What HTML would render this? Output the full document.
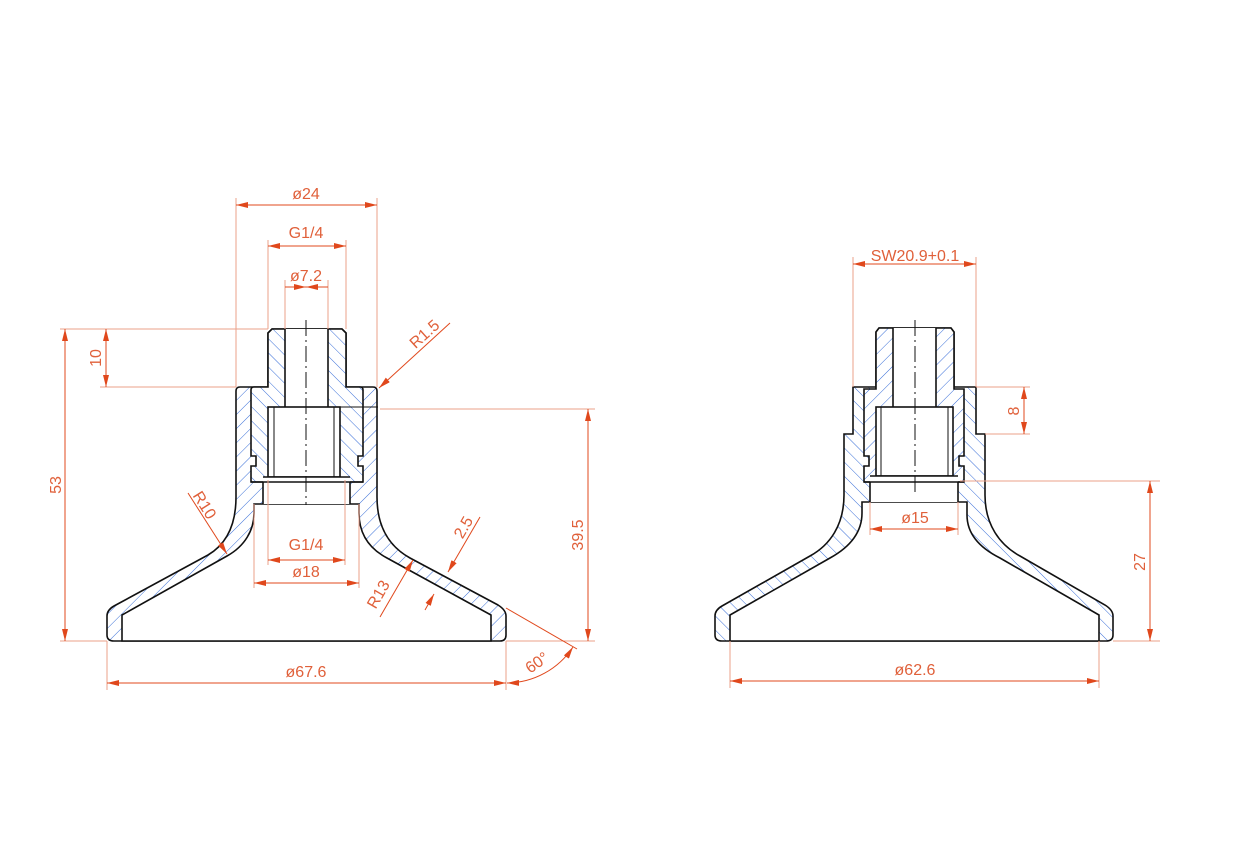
<!DOCTYPE html>
<html><head><meta charset="utf-8"><style>
html,body{margin:0;padding:0;background:#fff;width:1234px;height:849px;overflow:hidden}
svg{display:block}
text{font-family:"Liberation Sans","DejaVu Sans",sans-serif;font-size:16px;fill:#e0603a}
</style></head><body>
<svg width="1234" height="849" viewBox="0 0 1234 849" xmlns="http://www.w3.org/2000/svg">
<defs>
<pattern id="hf" width="10" height="10" patternUnits="userSpaceOnUse" patternTransform="rotate(45)"><line x1="0" y1="0" x2="0" y2="10" stroke="#3a6fd8" stroke-width="1"/></pattern>
<pattern id="hb" width="10" height="10" patternUnits="userSpaceOnUse" patternTransform="rotate(-45)"><line x1="0" y1="0" x2="0" y2="10" stroke="#3a6fd8" stroke-width="1"/></pattern>
<marker id="a" viewBox="0 0 12 6" refX="12" refY="3" markerWidth="12" markerHeight="6" orient="auto-start-reverse" markerUnits="userSpaceOnUse"><path d="M0,0 L12,3 L0,6 z" fill="#e0481c"/></marker>
</defs>

<!-- LEFT VIEW -->
<g stroke="#111" stroke-width="1.6" fill="none">
<path fill="url(#hf)" d="M268,333 L272,329 L342,329 L346,333 L346,387 L373,387 Q377,387 377,391 L377,497 C377,530 392,548 410,558 L498,605 Q506,610 506,616 L506,635 Q506,641 500,641 L114,641 Q107,641 107,635 L107,616 Q107,610 114,606 L208,555 C225,545 236,527 236,497 L236,391 Q236,387 240,387 L268,387 Z"/>
<path fill="#fff" stroke="none" d="M268,333 L272,329 L342,329 L346,333 L346,387 L360,387 Q363,387 363,390 L363,456 L358,456 L358,466 L363,466 L363,482 L251,482 L251,466 L256,466 L256,456 L251,456 L251,390 Q251,387 254,387 L268,387 Z"/>
<path fill="url(#hb)" d="M268,333 L272,329 L342,329 L346,333 L346,387 L360,387 Q363,387 363,390 L363,456 L358,456 L358,466 L363,466 L363,482 L251,482 L251,466 L256,466 L256,456 L251,456 L251,390 Q251,387 254,387 L268,387 Z"/>
<path fill="#fff" d="M122,641 L122,615 L227,556 C245,546 254,530 254,513 L254,504 L359,504 L359,513 C359,535 370,549 387,558 L491,615 L491,641 Z"/>
<rect x="285" y="329" width="43" height="78" fill="#fff" stroke="none"/>
<line x1="285" y1="329" x2="285" y2="407"/><line x1="328" y1="329" x2="328" y2="407"/>
<rect x="268" y="407" width="72" height="70" fill="#fff"/>
<rect x="263" y="477" width="87" height="27" fill="#fff" stroke="none"/>
<line x1="251" y1="482" x2="363" y2="482"/><line x1="263" y1="477" x2="350" y2="477"/>
<line x1="263" y1="482" x2="263" y2="504"/><line x1="350" y1="482" x2="350" y2="504"/>
<line x1="274" y1="407" x2="274" y2="477" stroke-width="1"/><line x1="334" y1="407" x2="334" y2="477" stroke-width="1"/>
<line x1="268" y1="407" x2="378" y2="407" stroke-width="1"/>
</g>
<line x1="306" y1="320" x2="306" y2="505" stroke="#111" stroke-width="1" stroke-dasharray="16,4,2,4"/>

<!-- RIGHT VIEW -->
<g stroke="#111" stroke-width="1.6" fill="none">
<path fill="url(#hb)" d="M876,332 L879,328 L951,328 L954,332 L954,387 L976,387 L976,434 L985,434 L985,495 C985,525 1000,545 1020,556 L1105,605 Q1113,610 1113,616 L1113,635 Q1113,641 1106,641 L722,641 Q715,641 715,635 L715,616 Q715,610 722,606 L810,556 C830,545 844,525 844,495 L844,434 L853,434 L853,387 L876,387 Z"/>
<path fill="#fff" stroke="none" d="M876,332 L879,328 L951,328 L954,332 L954,389 L964,389 L964,456 L959,456 L959,466 L964,466 L964,482 L864,482 L864,466 L869,466 L869,456 L864,456 L864,389 L876,389 Z"/>
<path fill="url(#hf)" d="M876,332 L879,328 L951,328 L954,332 L954,389 L964,389 L964,456 L959,456 L959,466 L964,466 L964,482 L864,482 L864,466 L869,466 L869,456 L864,456 L864,389 L876,389 Z"/>
<path fill="#fff" d="M730,641 L730,615 L830,558 C850,547 862,532 862,513 L862,502 L967,502 L967,515 C967,534 980,548 1000,558 L1099,615 L1099,641 Z"/>
<rect x="893" y="328" width="43" height="79" fill="#fff" stroke="none"/>
<line x1="893" y1="328" x2="893" y2="407"/><line x1="936" y1="328" x2="936" y2="407"/>
<rect x="876" y="407" width="77" height="69" fill="#fff"/>
<rect x="870" y="476" width="88" height="26" fill="#fff" stroke="none"/>
<line x1="864" y1="482" x2="964" y2="482"/><line x1="870" y1="476" x2="958" y2="476"/>
<line x1="870" y1="482" x2="870" y2="502"/><line x1="958" y1="482" x2="958" y2="502"/>
<line x1="881" y1="407" x2="881" y2="476" stroke-width="1"/><line x1="948" y1="407" x2="948" y2="476" stroke-width="1"/>
</g>
<line x1="915" y1="320" x2="915" y2="495" stroke="#111" stroke-width="1" stroke-dasharray="16,4,2,4"/>

<!-- extension lines -->
<g stroke="#eba08a" stroke-width="1" fill="none">
<line x1="236" y1="198" x2="236" y2="387"/><line x1="377" y1="198" x2="377" y2="387"/>
<line x1="268" y1="240" x2="268" y2="329"/><line x1="346" y1="240" x2="346" y2="329"/>
<line x1="285" y1="280" x2="285" y2="329"/><line x1="328" y1="280" x2="328" y2="329"/>
<line x1="60" y1="329" x2="268" y2="329"/><line x1="100" y1="387" x2="236" y2="387"/>
<line x1="380" y1="409" x2="595" y2="409"/><line x1="506" y1="641" x2="595" y2="641"/>
<line x1="268" y1="480" x2="268" y2="565"/><line x1="345" y1="480" x2="345" y2="565"/>
<line x1="254" y1="504" x2="254" y2="588"/><line x1="359" y1="504" x2="359" y2="588"/>
<line x1="107" y1="641" x2="107" y2="690"/><line x1="506" y1="641" x2="506" y2="690"/>
<line x1="60" y1="641" x2="107" y2="641"/>
<line x1="853" y1="257" x2="853" y2="387"/><line x1="976" y1="257" x2="976" y2="387"/>
<line x1="976" y1="387" x2="1030" y2="387"/><line x1="985" y1="434" x2="1030" y2="434"/>
<line x1="870" y1="502" x2="870" y2="535"/><line x1="958" y1="502" x2="958" y2="535"/>
<line x1="960" y1="481" x2="1160" y2="481"/><line x1="1113" y1="641" x2="1160" y2="641"/>
<line x1="730" y1="641" x2="730" y2="688"/><line x1="1099" y1="641" x2="1099" y2="688"/>
</g>

<!-- dimension lines -->
<g stroke="#e0481c" stroke-width="1" fill="none">
<line x1="236" y1="205" x2="377" y2="205" marker-start="url(#a)" marker-end="url(#a)"/>
<line x1="268" y1="246" x2="346" y2="246" marker-start="url(#a)" marker-end="url(#a)"/>
<line x1="285" y1="287" x2="328" y2="287"/>
<line x1="290" y1="287" x2="306" y2="287" marker-end="url(#a)"/><line x1="323" y1="287" x2="306" y2="287" marker-end="url(#a)"/>
<line x1="106" y1="329" x2="106" y2="387" marker-start="url(#a)" marker-end="url(#a)"/>
<line x1="65" y1="329" x2="65" y2="641" marker-start="url(#a)" marker-end="url(#a)"/>
<line x1="588" y1="409" x2="588" y2="641" marker-start="url(#a)" marker-end="url(#a)"/>
<line x1="450" y1="323" x2="379" y2="388" marker-end="url(#a)"/>
<line x1="188" y1="493" x2="227" y2="554" marker-end="url(#a)"/>
<line x1="380" y1="617" x2="413" y2="560" marker-end="url(#a)"/>
<line x1="480" y1="517" x2="448" y2="572" marker-end="url(#a)"/>
<line x1="425" y1="610" x2="434" y2="594" marker-end="url(#a)"/>
<line x1="268" y1="560" x2="345" y2="560" marker-start="url(#a)" marker-end="url(#a)"/>
<line x1="254" y1="583" x2="359" y2="583" marker-start="url(#a)" marker-end="url(#a)"/>
<line x1="107" y1="683" x2="506" y2="683" marker-start="url(#a)" marker-end="url(#a)"/>
<line x1="506" y1="608" x2="577" y2="649"/>
<path d="M507,683 A80,80 0 0 0 573,647" marker-start="url(#a)" marker-end="url(#a)"/>
<line x1="853" y1="264" x2="976" y2="264" marker-start="url(#a)" marker-end="url(#a)"/>
<line x1="1024" y1="387" x2="1024" y2="434" marker-start="url(#a)" marker-end="url(#a)"/>
<line x1="870" y1="529" x2="958" y2="529" marker-start="url(#a)" marker-end="url(#a)"/>
<line x1="1150" y1="481" x2="1150" y2="641" marker-start="url(#a)" marker-end="url(#a)"/>
<line x1="730" y1="681" x2="1099" y2="681" marker-start="url(#a)" marker-end="url(#a)"/>
</g>

<!-- labels -->
<text x="306" y="199" text-anchor="middle">ø24</text>
<text x="306" y="238" text-anchor="middle">G1/4</text>
<text x="306" y="281" text-anchor="middle">ø7.2</text>
<text transform="translate(101,358) rotate(-90)" text-anchor="middle">10</text>
<text transform="translate(61,485) rotate(-90)" text-anchor="middle">53</text>
<text transform="translate(583,535) rotate(-90)" text-anchor="middle">39.5</text>
<text transform="translate(428,338) rotate(-42)" text-anchor="middle">R1.5</text>
<text transform="translate(200,508) rotate(58)" text-anchor="middle">R10</text>
<text transform="translate(383,597) rotate(-60)" text-anchor="middle">R13</text>
<text transform="translate(468,530) rotate(-60)" text-anchor="middle">2.5</text>
<text x="306" y="550" text-anchor="middle">G1/4</text>
<text x="306" y="577" text-anchor="middle">ø18</text>
<text x="306" y="677" text-anchor="middle">ø67.6</text>
<text transform="translate(540,667) rotate(-35)" text-anchor="middle">60°</text>
<text x="915" y="261" text-anchor="middle">SW20.9+0.1</text>
<text transform="translate(1019,411) rotate(-90)" text-anchor="middle">8</text>
<text x="915" y="523" text-anchor="middle">ø15</text>
<text transform="translate(1145,562) rotate(-90)" text-anchor="middle">27</text>
<text x="915" y="675" text-anchor="middle">ø62.6</text>
</svg>
</body></html>
